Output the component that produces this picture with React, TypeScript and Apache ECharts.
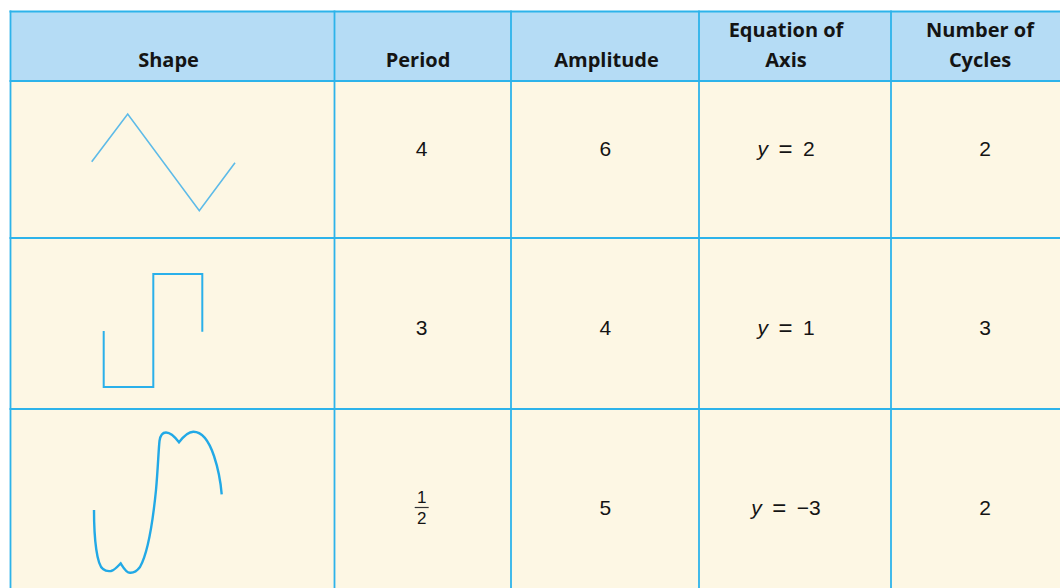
import React, { useEffect, useRef } from "react";
import * as echarts from "echarts";

// ---- table content ----
const headers = ["Shape", "Period", "Amplitude", "Equation of\nAxis", "Number of\nCycles"];
const periods = ["4", "3", "1/2"];
const amplitudes = [6, 4, 5];
const axisValues = [2, 1, -3];
const cycles = [2, 3, 2];

// ---- layout (pixels) ----
const colEdges = [10.5, 334.5, 511, 699, 891, 1082];
const rowEdges = [11.5, 81, 238, 409, 600];
const headerCenters = [168.5, 418, 606.5, 786, 980];
const bodyCenters = [0, 421.7, 605.3, 786, 985];

const BORDER = "#2db3ea";
const HEADER_BG = "#b5dcf5";
const BODY_BG = "#fdf7e4";
const TEXT = "#141414";

// illustrative shape drawings for the first column
const triangleShape = [[91.7, 161.7], [127.7, 114], [199.3, 210.7], [235, 162.7]];
const squareShape = [[103.7, 331], [103.7, 387], [153.3, 387], [153.3, 274], [202.3, 274], [202.3, 331.7]];
const curveShapePath =
  "M94,510 C94,540 97,565 103,569 C106,571.5 108,571.5 111,571 C115,570 118,566 120.7,563.3 " +
  "C123,567 126,572.7 130,572.7 C134,573 137,571 140,567 C148,553 153,520 156,490 " +
  "C158,468 158.5,450 159.5,441 C160.5,434 163,432.5 166,432.5 C171,432.5 175,437 179,442.3 " +
  "C183,437 188,431.7 193.3,431.7 C203,431.7 210,444 214,456 C218,468 220.5,480 221.7,494.3";

let registered = false;

function buildGraphic() {
  const els: any[] = [];
  const left = colEdges[0];
  const right = colEdges[colEdges.length - 1];
  // backgrounds
  els.push({
    type: "rect",
    shape: { x: left, y: rowEdges[0], width: right - left, height: rowEdges[1] - rowEdges[0] },
    style: { fill: HEADER_BG },
  });
  els.push({
    type: "rect",
    shape: { x: left, y: rowEdges[1], width: right - left, height: rowEdges[4] - rowEdges[1] },
    style: { fill: BODY_BG },
  });
  // grid lines
  rowEdges.slice(0, 4).forEach((y) => {
    els.push({
      type: "line",
      shape: { x1: left - 1, y1: y, x2: right, y2: y },
      style: { stroke: BORDER, lineWidth: 1.8 },
    });
  });
  colEdges.slice(0, 5).forEach((x) => {
    els.push({
      type: "line",
      shape: { x1: x, y1: rowEdges[0] - 1, x2: x, y2: rowEdges[4] },
      style: { stroke: BORDER, lineWidth: 1.8 },
    });
  });
  // header texts
  headers.forEach((h, i) => {
    const twoLine = h.indexOf("\n") >= 0;
    els.push({
      type: "text",
      x: headerCenters[i],
      y: twoLine ? 44 : 59,
      style: {
        text: h,
        fill: TEXT,
        fontFamily: "'Open Sans', 'Noto Sans', sans-serif",
        fontWeight: "bold",
        fontSize: 20,
        lineHeight: 30,
        align: "center",
        verticalAlign: "middle",
      },
    });
  });
  const rowCenters = [148, 327.5, 507.5];
  const bodyFont = "'Liberation Sans', Arial, sans-serif";
  const BODY_SIZE = 21;
  rowCenters.forEach((cy, r) => {
    // period
    const p = periods[r];
    if (p.indexOf("/") >= 0) {
      const [num, den] = p.split("/");
      els.push({
        type: "text",
        x: bodyCenters[1],
        y: cy - 10,
        style: { text: num, fill: TEXT, fontFamily: bodyFont, fontSize: 17, align: "center", verticalAlign: "middle" },
      });
      els.push({
        type: "line",
        shape: { x1: bodyCenters[1] - 7, y1: cy, x2: bodyCenters[1] + 7, y2: cy },
        style: { stroke: "#333", lineWidth: 1.2 },
      });
      els.push({
        type: "text",
        x: bodyCenters[1],
        y: cy + 11,
        style: { text: den, fill: TEXT, fontFamily: bodyFont, fontSize: 17, align: "center", verticalAlign: "middle" },
      });
    } else {
      els.push({
        type: "text",
        x: bodyCenters[1],
        y: cy,
        style: { text: p, fill: TEXT, fontFamily: bodyFont, fontSize: BODY_SIZE, align: "center", verticalAlign: "middle" },
      });
    }
    // amplitude
    els.push({
      type: "text",
      x: bodyCenters[2],
      y: cy,
      style: { text: String(amplitudes[r]), fill: TEXT, fontFamily: bodyFont, fontSize: BODY_SIZE, align: "center", verticalAlign: "middle" },
    });
    // equation of axis
    const v = axisValues[r];
    const vs = v < 0 ? "\u2212" + Math.abs(v) : String(v);
    els.push({
      type: "text",
      x: bodyCenters[3],
      y: cy,
      style: {
        text: "{i|y}{n|\u2002}{e|=}{n|\u2002" + vs + "}",
        align: "center",
        verticalAlign: "middle",
        rich: {
          i: { fontStyle: "italic", fontFamily: bodyFont, fontSize: BODY_SIZE, fill: TEXT },
          n: { fontFamily: bodyFont, fontSize: BODY_SIZE, fill: TEXT },
          e: { fontFamily: bodyFont, fontSize: 24, fill: TEXT },
        },
      },
    });
    // cycles
    els.push({
      type: "text",
      x: bodyCenters[4],
      y: cy,
      style: { text: String(cycles[r]), fill: TEXT, fontFamily: bodyFont, fontSize: BODY_SIZE, align: "center", verticalAlign: "middle" },
    });
  });
  // shapes
  els.push({
    type: "polyline",
    shape: { points: triangleShape },
    style: { fill: "none", stroke: "#5dbbe8", lineWidth: 1.6 },
  });
  els.push({
    type: "polyline",
    shape: { points: squareShape },
    style: { fill: "none", stroke: "#2ab0ea", lineWidth: 2 },
  });
  els.push({
    type: "sinCurveShape",
    x: 0,
    y: 0,
    style: { fill: "none", stroke: "#22a9e6", lineWidth: 2.4 },
  });
  return els;
}

export default function App() {
  const ref = useRef<HTMLDivElement>(null);
  useEffect(() => {
    if (!registered) {
      echarts.graphic.registerShape("sinCurveShape", echarts.graphic.extendPath(curveShapePath, {}) as any);
      registered = true;
    }
    const chart = echarts.init(ref.current!, null, { renderer: "svg" });
    chart.setOption({
      animation: false,
      backgroundColor: "#ffffff",
      graphic: { elements: buildGraphic() },
    });
    return () => chart.dispose();
  }, []);
  return (
    <div
      ref={ref}
      style={{ position: "fixed", left: 0, top: 0, width: 1060, height: 588, background: "#fff" }}
    />
  );
}
